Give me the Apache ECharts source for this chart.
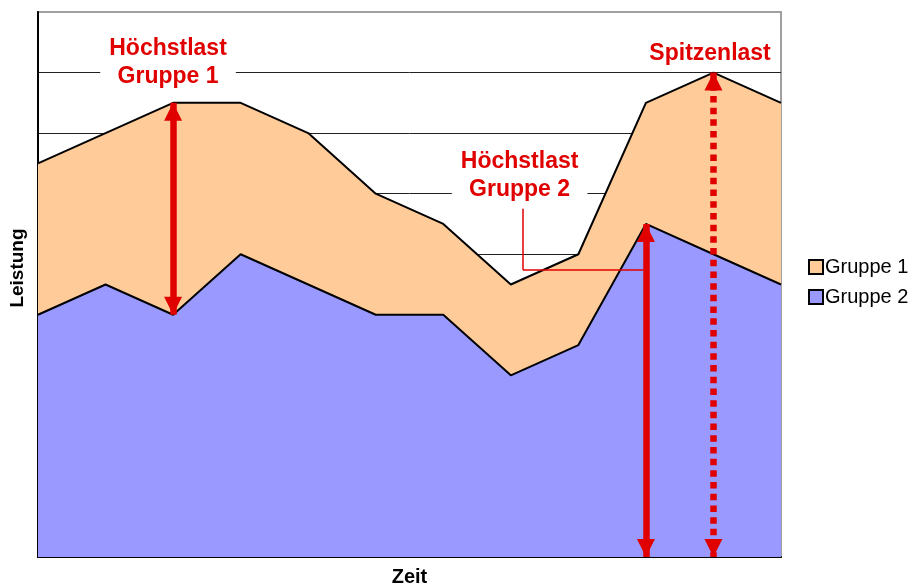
<!DOCTYPE html>
<html>
<head>
<meta charset="utf-8">
<script src="https://cdn.jsdelivr.net/npm/echarts@6/dist/echarts.min.js"></script>
<style>
html,body{margin:0;padding:0;background:#fff;}
#abc{width:916px;height:584px;}
</style>
</head>
<body>
<div id="abc"></div>
<script>
//Zeitpunkte (X-Achse, ohne Beschriftung)
var xData=['1','2','3','4','5','6','7','8','9','10','11','12'];
//Leistung Gruppe 2 (untere Fläche)
var gruppe2=[4,4.5,4,5,4.5,4,4,3,3.5,5.5,5,4.5];
//Leistung Gruppe 1 (gestapelt auf Gruppe 2)
var gruppe1=[2.5,2.5,3.5,2.5,2.5,2,1.5,1.5,1.5,2,3,3];
//Pfeile: [x, von, bis]
var pfeilG1=[2,7.5,4];
var pfeilG2=[9,5.5,0];
var pfeilSpitze=[10,8,0];

var rot='#E00000';
var schrift='"Liberation Sans", Arial, sans-serif';

var dom=document.getElementById("abc");
var myChart=echarts.init(dom);

function pfeil(p,style){
    return [{coord:[p[0],p[1]],lineStyle:style},{coord:[p[0],p[2]]}];
}
function text(x,y,txt,bg){
    return {
        coord:[x,y],
        label:{
            formatter:txt,
            backgroundColor:bg?'#fff':'transparent',
            padding:bg?[2,9,2,9]:0
        }
    };
}

var option={
    animation:false,
    textStyle:{fontFamily:schrift},
    grid:{left:38,right:135,top:12,bottom:27,show:true,borderColor:'#a0a0a0',borderWidth:2,
        containLabel:false,outerBoundsMode:'none'},
    legend:{
        data:['Gruppe 1','Gruppe 2'],
        orient:'vertical',
        left:803,
        top:252,
        icon:'rect',
        itemWidth:14,
        itemHeight:14,
        itemGap:10,
        itemStyle:{borderColor:'#000',borderWidth:2},
        textStyle:{fontSize:20,color:'#000',fontFamily:schrift,padding:[0,0,0,-3]},
        selectedMode:false
    },
    xAxis:[
        {
            type:'category',
            boundaryGap:false,
            data:xData,
            name:'Zeit',
            nameLocation:'middle',
            nameGap:10,
            nameTextStyle:{fontSize:20,fontWeight:'bold',color:'#000',fontFamily:schrift},
            axisLine:{show:true,lineStyle:{color:'#000',width:2}},
            axisTick:{show:false},
            axisLabel:{show:false},
            splitLine:{show:false}
        },
        {
            //unsichtbare Hilfsachse für die Beschriftungen
            type:'value',
            min:0,
            max:xData.length-1,
            show:false
        }
    ],
    yAxis:{
        type:'value',
        min:0,
        max:9,
        interval:1,
        axisLine:{show:true,lineStyle:{color:'#000',width:2}},
        axisTick:{show:false},
        axisLabel:{show:false},
        splitLine:{show:true,showMaxLine:false,lineStyle:{color:'#222',width:1}}
    },
    graphic:[{
        type:'text',
        x:18,
        y:268,
        rotation:Math.PI/2,
        style:{text:'Leistung',font:'bold 19px '+schrift,fill:'#000',align:'center',verticalAlign:'middle'}
    }],
    series:[
        {
            name:'Gruppe 2',
            type:'line',
            stack:'summe',
            data:gruppe2,
            color:'#9999FF',
            symbol:'none',
            lineStyle:{color:'#000',width:2},
            areaStyle:{color:'#9999FF',opacity:1},
            emphasis:{disabled:true}
        },
        {
            name:'Gruppe 1',
            type:'line',
            stack:'summe',
            data:gruppe1,
            color:'#FFCC99',
            symbol:'none',
            lineStyle:{color:'#000',width:2},
            areaStyle:{color:'#FFCC99',opacity:1},
            emphasis:{disabled:true}
        },
        {
            //Verbindungslinie zur Beschriftung Gruppe 2
            name:'verbinder',
            type:'line',
            xAxisIndex:1,
            data:[],
            markLine:{
                silent:true,
                symbol:['none','none'],
                label:{show:false},
                lineStyle:{color:rot,width:1.5,type:'solid'},
                data:[
                    [{coord:[7.18,5.75]},{coord:[7.18,4.74]}],
                    [{coord:[7.18,4.74]},{coord:[9,4.74]}]
                ]
            }
        },
        {
            name:'pfeile',
            type:'line',
            xAxisIndex:1,
            data:[],
            markLine:{
                silent:true,
                symbol:['triangle','triangle'],
                symbolSize:[18,18],
                symbolOffset:[[0,9],[0,9]],
                label:{show:false},
                lineStyle:{color:rot,width:6.5,type:'solid',opacity:1},
                data:[
                    pfeil(pfeilG1),
                    pfeil(pfeilG2),
                    pfeil(pfeilSpitze,{type:[6.5,5.2],width:6.5,color:rot})
                ]
            },
            markPoint:{
                silent:true,
                symbol:'rect',
                symbolSize:1,
                itemStyle:{color:'rgba(0,0,0,0)'},
                label:{
                    show:true,
                    position:'inside',
                    color:rot,
                    fontSize:23,
                    fontWeight:'bold',
                    lineHeight:28,
                    fontFamily:schrift,
                    align:'center',
                    verticalAlign:'middle'
                },
                data:[
                    text(1.925,8.16,'Höchstlast\nGruppe 1',true),
                    text(9.95,8.31,'Spitzenlast',false),
                    text(7.13,6.29,'Höchstlast\nGruppe 2',true)
                ]
            }
        }
    ]
};
if (option && typeof option === "object") {
    myChart.setOption(option, true);
}
</script>
</body>
</html>
